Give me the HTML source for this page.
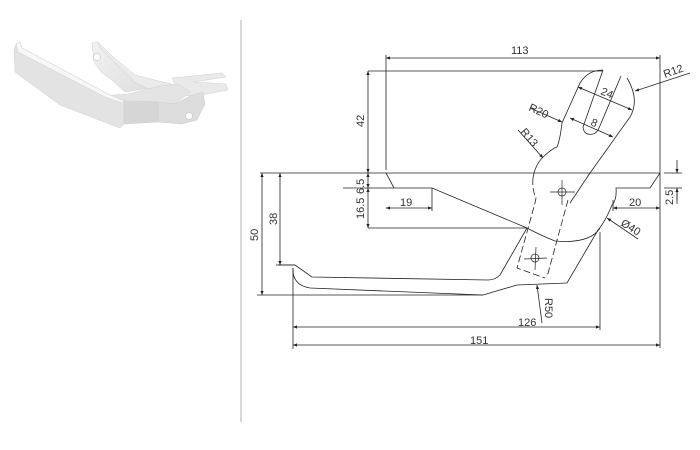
<!DOCTYPE html>
<html><head><meta charset="utf-8"><style>
html,body{margin:0;padding:0;background:#fff;}
svg{display:block;}
text{font-family:"Liberation Sans",sans-serif;font-size:11px;fill:#333;}
</style></head><body>
<svg width="700" height="450" viewBox="0 0 700 450" xmlns="http://www.w3.org/2000/svg">
<defs>
<marker id="a" viewBox="0 0 10 10" refX="10" refY="5" markerWidth="7" markerHeight="5" orient="auto-start-reverse"><path d="M0,1 L10,5 L0,9 z" fill="#222"/></marker>
<linearGradient id="g1" x1="0" y1="0" x2="1" y2="1"><stop offset="0" stop-color="#f2f2f2"/><stop offset="1" stop-color="#dedede"/></linearGradient>
</defs>
<!-- 3D part -->
<g stroke="#cfcfcf" stroke-width="0.5">
<!-- back arm -->
<polygon points="92,43 98,42 100,48 112,58 135,80 150,88 125,92 112,80 102,73 94,62" fill="url(#g1)"/>
<polygon points="98,42 112,56 135,75 175,85 150,90 135,82 112,60 100,48" fill="#ebebeb"/>
<circle cx="97" cy="57" r="3.5" fill="#fafafa" stroke="#bbb"/>
<!-- fork -->
<polygon points="172,78 222,73 226,77 193,82 226,84 228,90 196,96 180,95" fill="#e9e9e9"/>
<!-- middle top face -->
<polygon points="102,96 128,94 160,86 178,84 190,92 175,104 158,102 124,101" fill="#e4e4e4"/>
<!-- main arm -->
<polygon points="16,44 20,42 22,48 108,94 124,101 124,124 120,128 60,105 15,72 14,50" fill="#e3e3e3"/>
<polygon points="16,44 20,42 22,48 108,94 124,101 122,103 105,97 18,52" fill="#f7f7f7"/>
<!-- block front -->
<polygon points="124,101 158,102 158,122 124,124" fill="#d6d6d6"/>
<!-- right tab -->
<polygon points="158,102 175,104 190,96 203,92 205,104 197,120 182,124 158,122" fill="#dcdcdc"/>
<circle cx="189" cy="116" r="3.5" fill="#fafafa" stroke="#bbb"/>
</g>
<line x1="241" y1="20" x2="241" y2="422" stroke="#ccc" stroke-width="1.5"/>
<g fill="none" stroke="#222" stroke-width="0.8">
<line x1="368" y1="71" x2="603" y2="71"/>
<line x1="386" y1="55" x2="386" y2="170"/>
<line x1="660" y1="55" x2="660" y2="348"/>
<line x1="260" y1="173" x2="660" y2="173"/>
<line x1="664" y1="173" x2="682" y2="173"/>
<line x1="664" y1="188" x2="682" y2="188"/>
<line x1="368" y1="228" x2="527" y2="228"/>
<line x1="343" y1="188" x2="394" y2="188"/>
<line x1="432" y1="188" x2="432" y2="211"/>
<line x1="613" y1="200" x2="613" y2="211"/>
<line x1="257" y1="295" x2="483" y2="295"/>
<line x1="276" y1="265" x2="295" y2="265"/>
<line x1="293" y1="268" x2="293" y2="349"/>
<line x1="600" y1="232" x2="600" y2="330"/>
<line x1="386" y1="58" x2="660" y2="58" marker-start="url(#a)" marker-end="url(#a)"/>
<line x1="368" y1="71" x2="368" y2="173" marker-start="url(#a)" marker-end="url(#a)"/>
<line x1="368" y1="173" x2="368" y2="188" marker-start="url(#a)" marker-end="url(#a)"/>
<line x1="368" y1="188" x2="368" y2="228" marker-start="url(#a)" marker-end="url(#a)"/>
<line x1="386" y1="208" x2="432" y2="208" marker-start="url(#a)" marker-end="url(#a)"/>
<line x1="262" y1="173" x2="262" y2="295" marker-start="url(#a)" marker-end="url(#a)"/>
<line x1="280" y1="173" x2="280" y2="265" marker-start="url(#a)" marker-end="url(#a)"/>
<line x1="293" y1="327" x2="600" y2="327" marker-start="url(#a)" marker-end="url(#a)"/>
<line x1="293" y1="345" x2="660" y2="345" marker-start="url(#a)" marker-end="url(#a)"/>
<line x1="613" y1="208" x2="660" y2="208" marker-start="url(#a)" marker-end="url(#a)"/>
<line x1="677" y1="160" x2="677" y2="173" marker-end="url(#a)"/>
<line x1="677" y1="200" x2="677" y2="188" marker-end="url(#a)"/>
<line x1="677" y1="188" x2="677" y2="204"/>
<line x1="578" y1="87" x2="632" y2="110" marker-start="url(#a)" marker-end="url(#a)"/>
<line x1="570" y1="118" x2="613" y2="137" marker-start="url(#a)" marker-end="url(#a)"/>
<line x1="690" y1="73" x2="635" y2="91" marker-end="url(#a)"/>
<line x1="530" y1="108" x2="562" y2="122" marker-end="url(#a)"/>
<line x1="518" y1="130" x2="543" y2="158" marker-end="url(#a)"/>
<line x1="638" y1="239" x2="607" y2="218" marker-end="url(#a)"/>
<line x1="542" y1="323" x2="537" y2="285" marker-end="url(#a)"/>
<path d="M386,173 L394,188 L432,188 L527,228 Q540,235 555,241 Q590,244 600,228"/>
<path d="M660,173 L650,188 L616,188 Q617,200 612,205 Q605,222 598,230"/>
<path d="M527,228 L500,275 Q495,280 488,280 L312,277 L295,265 L278,265"/>
<path d="M293,268 Q292,285 310,288 L483,295 L517,285 L567,283 L598,230"/>
<path d="M570,203 L590,173 L630,117 Q640,100 627,78"/>
<path d="M543,157 Q535,165 533,178"/>
<path d="M543,157 Q553,148 557,147 Q560,140 562,123 L580,83 Q588,70 603,70"/>
<path d="M603,70 L583,127 Q584,136 593,134 Q597,133 599,128 L621,76"/>
<g stroke-dasharray="7,3">
<path d="M533,178 Q532,190 536,198 L535,203 L517,268 L545,278"/>
<line x1="568" y1="200" x2="547" y2="277"/>
</g>
<g stroke-width="0.7">
<line x1="550" y1="192" x2="575" y2="192"/><line x1="562" y1="180" x2="562" y2="205"/><circle cx="562" cy="192" r="4"/>
<line x1="524" y1="259" x2="547" y2="258"/><line x1="536" y1="247" x2="535" y2="270"/><circle cx="535" cy="258" r="4"/>
</g>
</g>
<text x="511" y="54">113</text>
<text x="518" y="326">126</text>
<text x="470" y="344">151</text>
<text x="400" y="206">19</text>
<text x="629" y="206">20</text>
<text transform="translate(364,127) rotate(-90)">42</text>
<text transform="translate(364,194) rotate(-90)">6.5</text>
<text transform="translate(364,219) rotate(-90)">16.5</text>
<text transform="translate(258,241) rotate(-90)">50</text>
<text transform="translate(277,225) rotate(-90)">38</text>
<text transform="translate(673,205) rotate(-90)">2.5</text>
<text transform="translate(600,94) rotate(23)">24</text>
<text transform="translate(590,125) rotate(23)">8</text>
<text transform="translate(665,78) rotate(-20)">R12</text>
<text transform="translate(528,110) rotate(25)">R20</text>
<text transform="translate(520,132) rotate(50)">R13</text>
<text transform="translate(620,225) rotate(32)">Ø40</text>
<text transform="translate(545,298) rotate(90)">R50</text>
</svg>
</body></html>
